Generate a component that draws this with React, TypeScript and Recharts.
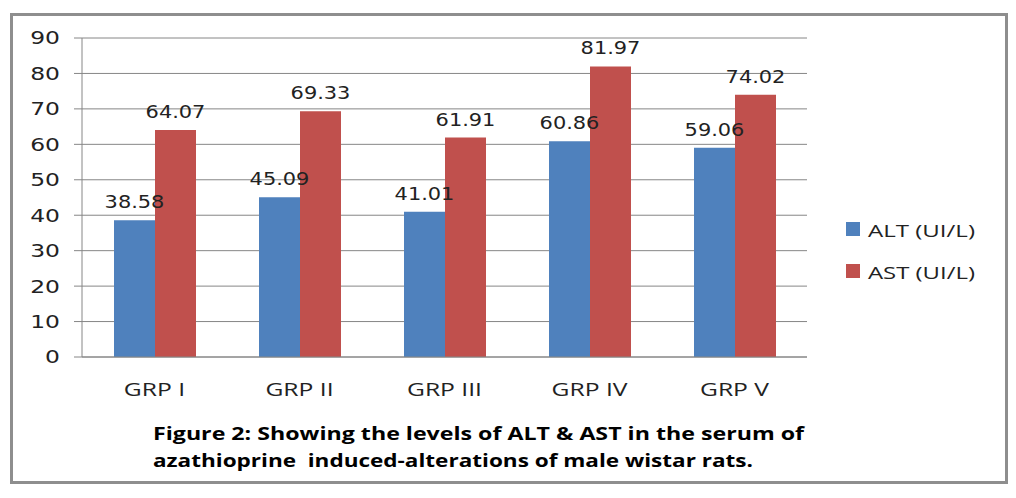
import React from "react";
import {
  Bar,
  BarChart,
  CartesianGrid,
  LabelList,
  Legend,
  XAxis,
  YAxis,
} from "recharts";

const categories = ["GRP I", "GRP II", "GRP III", "GRP IV", "GRP V"];
const altValues = [38.58, 45.09, 41.01, 60.86, 59.06];
const astValues = [64.07, 69.33, 61.91, 81.97, 74.02];
const yTicks = [0, 10, 20, 30, 40, 50, 60, 70, 80, 90];
const captionLines = [
  "Figure 2: Showing the levels of ALT & AST in the serum of",
  "azathioprine  induced-alterations of male wistar rats.",
];

const ALT_COLOR = "#4F81BD";
const AST_COLOR = "#C0504D";
const TEXT = "#222";

const data = categories.map((name, i) => ({
  name,
  alt: altValues[i],
  ast: astValues[i],
}));

function YTick({ x, y, payload }: any) {
  return (
    <g transform={`translate(${x},${y}) scale(1.3,1)`}>
      <text
        textAnchor="end"
        dy="0.36em"
        fontFamily="DejaVu Sans"
        fontSize={18}
        fill={TEXT}
      >
        {payload.value}
      </text>
    </g>
  );
}

function XTick({ x, y, payload }: any) {
  return (
    <g transform={`translate(${x},${y}) scale(1.37,1)`}>
      <text
        textAnchor="middle"
        dy="0.71em"
        fontFamily="Open Sans"
        fontSize={18}
        fill={TEXT}
      >
        {payload.value}
      </text>
    </g>
  );
}

function ValueLabel({ x, y, width, value }: any) {
  return (
    <g transform={`translate(${x + width / 2},${y - 12}) scale(1.23,1)`}>
      <text
        textAnchor="middle"
        fontFamily="DejaVu Sans"
        fontSize={17}
        fill={TEXT}
      >
        {Number(value).toFixed(2)}
      </text>
    </g>
  );
}

function LegendBox({ payload }: any) {
  const widths = [107, 107];
  return (
    <svg width={170} height={80}>
      {(payload || []).map((item: any, i: number) => (
        <g key={item.value} transform={`translate(0,${i * 42})`}>
          <rect x={0} y={4} width={14} height={14} fill={item.color} />
          <text
            x={22}
            y={19}
            textLength={widths[i]}
            lengthAdjust="spacingAndGlyphs"
            fontFamily="Open Sans"
            fontSize={17}
            fill={TEXT}
          >
            {item.value}
          </text>
        </g>
      ))}
    </svg>
  );
}

export default function App() {
  return (
    <div style={{ position: "relative", width: 1000, height: 490 }}>
      <div
        style={{
          position: "absolute",
          left: 2,
          top: 5,
          width: 998,
          height: 471,
          boxSizing: "border-box",
          border: "3px solid #8e8e8e",
          background: "#fff",
        }}
      />
      <div style={{ position: "absolute", left: 0, top: 0 }}>
        <BarChart
          width={1000}
          height={400}
          data={data}
          margin={{ top: 30, right: 201, bottom: 11, left: 0 }}
          barSize={41}
          barGap={0}
        >
          <CartesianGrid vertical={false} stroke="#868686" />
          <XAxis
            dataKey="name"
            height={40}
            tickLine={false}
            stroke="#868686"
            tickMargin={20}
            tick={<XTick />}
          />
          <YAxis
            width={74}
            domain={[0, 90]}
            ticks={yTicks}
            stroke="#868686"
            tickSize={8}
            tickMargin={14}
            tick={<YTick />}
          />
          <Legend
            layout="vertical"
            align="center"
            verticalAlign="middle"
            content={<LegendBox />}
            wrapperStyle={{ position: "absolute", left: 838, top: 210, width: 170 }}
          />
          <Bar dataKey="alt" name="ALT (UI/L)" fill={ALT_COLOR} isAnimationActive={false}>
            <LabelList dataKey="alt" content={<ValueLabel />} />
          </Bar>
          <Bar dataKey="ast" name="AST (UI/L)" fill={AST_COLOR} isAnimationActive={false}>
            <LabelList dataKey="ast" content={<ValueLabel />} />
          </Bar>
        </BarChart>
      </div>
      <svg
        width={1000}
        height={490}
        style={{ position: "absolute", left: 0, top: 0, pointerEvents: "none" }}
      >
        {captionLines.map((line, i) => (
          <text
            key={i}
            x={145}
            y={432 + i * 27}
            textLength={i === 0 ? 651 : 600}
            lengthAdjust="spacingAndGlyphs"
            fontFamily="Open Sans"
            fontWeight="bold"
            fontSize={18}
            fill="#000"
            style={{ whiteSpace: "pre" }}
          >
            {line}
          </text>
        ))}
      </svg>
    </div>
  );
}
